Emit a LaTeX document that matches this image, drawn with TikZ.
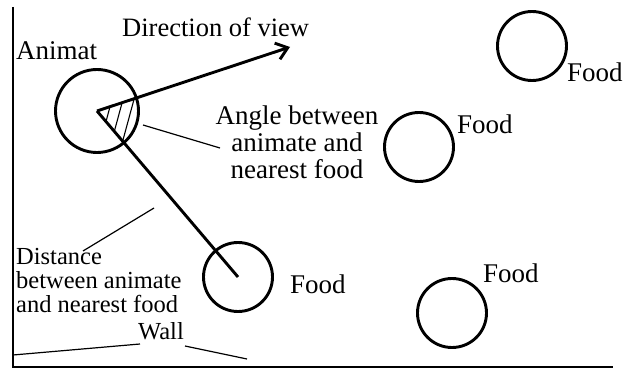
\documentclass[tikz,border=0pt]{standalone}
\usepackage{fontspec}
\setmainfont{Liberation Serif}
\usetikzlibrary{arrows.meta}
\tikzset{
  body/.style={draw, circle, line width=2.9pt, inner sep=0pt},
  animat/.style={body, minimum size=83pt},
  food/.style={body, minimum size=69pt},
  lbl/.style={inner sep=0pt, font=\fontsize{27}{27}\selectfont},
  note/.style={inner sep=0pt, align=left, font=\fontsize{24.5}{24}\selectfont},
  ray/.style={line width=2.9pt},
  pointer/.style={line width=1.2pt},
  hatch/.style={line width=1.1pt}
}

\begin{document}
\begin{tikzpicture}[x=1pt,y=-1pt]
  \useasboundingbox (0,0) rectangle (630,369);

  % walls
  \coordinate (wtop) at (13,7);
  \coordinate (wcorner) at (13,367);
  \coordinate (wend) at (613,367);
  \draw[line width=2.9pt] (wtop) -- (wcorner) -- (wend);

  % animat and food
  \node[animat] (animat) at (97,111) {};
  \node[food] (food1) at (238,277) {};
  \node[food] (food2) at (419,147) {};
  \node[food] (food3) at (532,46) {};
  \node[food] (food4) at (452,313) {};

  % angle hatching
  \coordinate (viewtip) at (290,47);
  \begin{scope}
    \clip (animat.center) circle (42);
    \clip (animat.center) -- (viewtip) -- (food1.center) -- cycle;
    \foreach \hx in {109,120,131}
      \draw[hatch] (\hx+8,81) -- (\hx-11,151);
  \end{scope}

  \draw[ray, -{Straight Barb[length=11pt, width=17pt, line width=2.9pt]}] (animat.center) -- (viewtip);
  \draw[ray] (animat.center) -- (food1.center);

  % labels
  \node[lbl, anchor=base west, font=\fontsize{26.5}{26.5}\selectfont] (dirview) at (122,37) {Direction of view};
  \node[lbl, anchor=base west] (animatlbl) at (16,60) {Animat};
  \node[lbl, align=center, anchor=north] (anglelbl) at (297,106) {Angle between\\animate and\\nearest food};
  \node[note, anchor=north west] (distlbl) at (16,248) {Distance\\between animate\\and nearest food};
  \node[note, anchor=base] (walllbl) at (161,339) {Wall};
  \node[lbl, anchor=base west] (foodlbl1) at (290,293) {Food};
  \node[lbl, anchor=base west] (foodlbl2) at (457,133) {Food};
  \node[lbl, anchor=base west] (foodlbl3) at (567,82) {Food};
  \node[lbl, anchor=base west] (foodlbl4) at (483,282) {Food};

  % pointers
  \coordinate (angfrom) at (143,125);
  \coordinate (angto) at (220,148);
  \coordinate (distfrom) at (83,251);
  \coordinate (distto) at (154,208);
  \coordinate (wallA) at (13,355);
  \coordinate (wallB) at (140,344);
  \coordinate (wallC) at (185,346);
  \coordinate (wallD) at (247,359);
  \draw[pointer] (angfrom) -- (angto);
  \draw[pointer] (distfrom) -- (distto);
  \draw[pointer] (wallA) -- (wallB);
  \draw[pointer] (wallC) -- (wallD);
\end{tikzpicture}
\end{document}
